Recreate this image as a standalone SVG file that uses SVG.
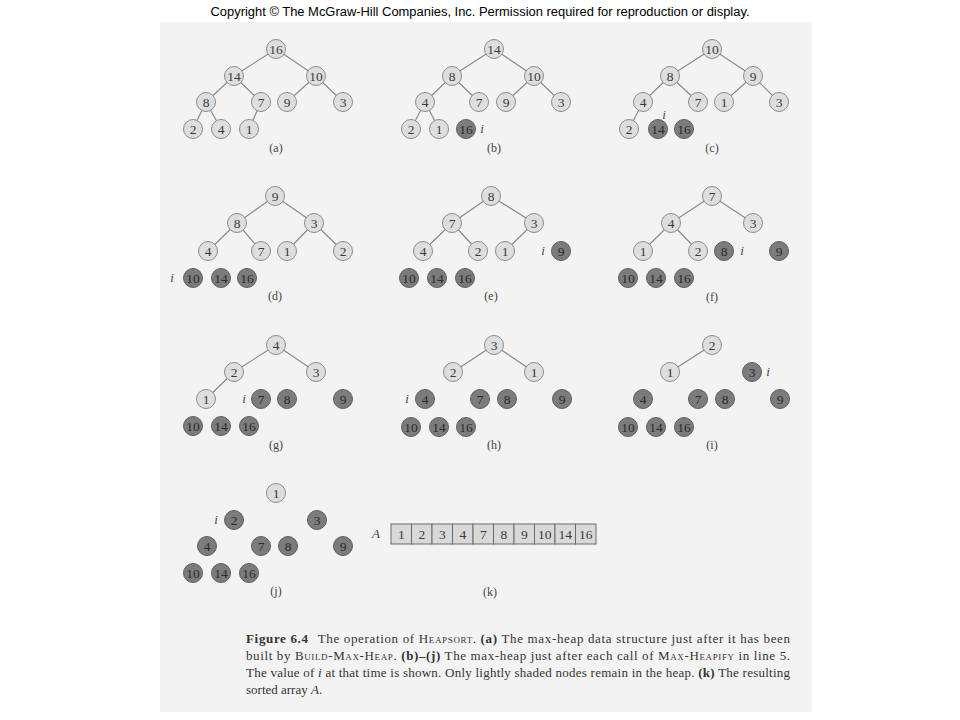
<svg xmlns="http://www.w3.org/2000/svg" width="960" height="720" viewBox="0 0 960 720">
<style>
.bg{fill:#f3f3f3}
.edge{stroke:#8a8a8a;stroke-width:1.2;fill:none}
.lt{fill:#dedede;stroke:#8c8c8c;stroke-width:1}
.dk{fill:#7c7c7c;stroke:#5e5e5e;stroke-width:1}
text{font-family:"Liberation Serif","Times New Roman",serif}
.nt{font-size:13.5px;fill:#3a3a3a;text-anchor:middle}
.dt{font-size:13.5px;fill:#2a2a2a;text-anchor:middle}
.lbl{font-size:12px;fill:#444;text-anchor:middle}
.iv{font-size:13px;font-style:italic;fill:#444;text-anchor:middle}
.cell{fill:#d9d9d9;stroke:#6a6a6a;stroke-width:1}
.cap{font-size:13px;fill:#333}
.sc{font-variant:small-caps}
.b{font-weight:bold}
.it{font-style:italic}
.copy{font-family:"Liberation Sans",Arial,sans-serif;font-size:12px;fill:#000;text-anchor:middle}
</style>
<rect width="960" height="720" fill="#ffffff"/>
<rect class="bg" x="160" y="22" width="652" height="690"/>
<text class="copy" x="480" y="16" textLength="539" lengthAdjust="spacingAndGlyphs">Copyright © The McGraw-Hill Companies, Inc. Permission required for reproduction or display.</text>

<g id="connectors">
<path class="edge" d="M276 49L234 76M276 49L316 76M234 76L206 102M234 76L261 102M316 76L287 102M316 76L343 102M206 102L193 129M206 102L221 129M261 102L249 129"/>
<path class="edge" d="M494 49L452 76M494 49L534 76M452 76L425 102M452 76L479 102M534 76L506 102M534 76L561 102M425 102L411 129M425 102L439 129"/>
<path class="edge" d="M712 49L670 76M712 49L753 76M670 76L643 102M670 76L698 102M753 76L724 102M753 76L779 102M643 102L629 129"/>
<path class="edge" d="M275 196L237 223M275 196L314 223M237 223L208 251M237 223L261 251M314 223L287 251M314 223L343 251"/>
<path class="edge" d="M491 196L452 223M491 196L534 223M452 223L423 251M452 223L478 251M534 223L505 251"/>
<path class="edge" d="M712 196L671 223M712 196L753 223M671 223L643 251M671 223L698 251"/>
<path class="edge" d="M276 345L234 372M276 345L316 372M234 372L206 399"/>
<path class="edge" d="M494 345L453 372M494 345L534 372"/>
<path class="edge" d="M712 345L670 372"/>
</g>

<!-- Panel (a) -->
<g id="a-16" transform="translate(276,49)"><circle class="lt" r="9.5"/><text class="nt" y="4.5">16</text></g>
<g id="a-14" transform="translate(234,76)"><circle class="lt" r="9.5"/><text class="nt" y="4.5">14</text></g>
<g id="a-10" transform="translate(316,76)"><circle class="lt" r="9.5"/><text class="nt" y="4.5">10</text></g>
<g id="a-8" transform="translate(206,102)"><circle class="lt" r="9.5"/><text class="nt" y="4.5">8</text></g>
<g id="a-7" transform="translate(261,102)"><circle class="lt" r="9.5"/><text class="nt" y="4.5">7</text></g>
<g id="a-9" transform="translate(287,102)"><circle class="lt" r="9.5"/><text class="nt" y="4.5">9</text></g>
<g id="a-3" transform="translate(343,102)"><circle class="lt" r="9.5"/><text class="nt" y="4.5">3</text></g>
<g id="a-2" transform="translate(193,129)"><circle class="lt" r="9.5"/><text class="nt" y="4.5">2</text></g>
<g id="a-4" transform="translate(221,129)"><circle class="lt" r="9.5"/><text class="nt" y="4.5">4</text></g>
<g id="a-1" transform="translate(249,129)"><circle class="lt" r="9.5"/><text class="nt" y="4.5">1</text></g>
<text class="lbl" x="276" y="152">(a)</text>

<!-- Panel (b) -->
<g id="b-14" transform="translate(494,49)"><circle class="lt" r="9.5"/><text class="nt" y="4.5">14</text></g>
<g id="b-8" transform="translate(452,76)"><circle class="lt" r="9.5"/><text class="nt" y="4.5">8</text></g>
<g id="b-10" transform="translate(534,76)"><circle class="lt" r="9.5"/><text class="nt" y="4.5">10</text></g>
<g id="b-4" transform="translate(425,102)"><circle class="lt" r="9.5"/><text class="nt" y="4.5">4</text></g>
<g id="b-7" transform="translate(479,102)"><circle class="lt" r="9.5"/><text class="nt" y="4.5">7</text></g>
<g id="b-9" transform="translate(506,102)"><circle class="lt" r="9.5"/><text class="nt" y="4.5">9</text></g>
<g id="b-3" transform="translate(561,102)"><circle class="lt" r="9.5"/><text class="nt" y="4.5">3</text></g>
<g id="b-2" transform="translate(411,129)"><circle class="lt" r="9.5"/><text class="nt" y="4.5">2</text></g>
<g id="b-1" transform="translate(439,129)"><circle class="lt" r="9.5"/><text class="nt" y="4.5">1</text></g>
<g id="b-16" transform="translate(466,129)"><circle class="dk" r="9.5"/><text class="dt" y="4.5">16</text></g>
<text class="iv" x="482" y="133">i</text>
<text class="lbl" x="494" y="152">(b)</text>

<!-- Panel (c) -->
<g id="c-10" transform="translate(712,49)"><circle class="lt" r="9.5"/><text class="nt" y="4.5">10</text></g>
<g id="c-8" transform="translate(670,76)"><circle class="lt" r="9.5"/><text class="nt" y="4.5">8</text></g>
<g id="c-9" transform="translate(753,76)"><circle class="lt" r="9.5"/><text class="nt" y="4.5">9</text></g>
<g id="c-4" transform="translate(643,102)"><circle class="lt" r="9.5"/><text class="nt" y="4.5">4</text></g>
<g id="c-7" transform="translate(698,102)"><circle class="lt" r="9.5"/><text class="nt" y="4.5">7</text></g>
<g id="c-1" transform="translate(724,102)"><circle class="lt" r="9.5"/><text class="nt" y="4.5">1</text></g>
<g id="c-3" transform="translate(779,102)"><circle class="lt" r="9.5"/><text class="nt" y="4.5">3</text></g>
<g id="c-2" transform="translate(629,129)"><circle class="lt" r="9.5"/><text class="nt" y="4.5">2</text></g>
<g id="c-14" transform="translate(658,129)"><circle class="dk" r="9.5"/><text class="dt" y="4.5">14</text></g>
<g id="c-16" transform="translate(684,129)"><circle class="dk" r="9.5"/><text class="dt" y="4.5">16</text></g>
<text class="iv" x="664" y="119">i</text>
<text class="lbl" x="712" y="152">(c)</text>

<!-- Panel (d) -->
<g id="d-9" transform="translate(275,196)"><circle class="lt" r="9.5"/><text class="nt" y="4.5">9</text></g>
<g id="d-8" transform="translate(237,223)"><circle class="lt" r="9.5"/><text class="nt" y="4.5">8</text></g>
<g id="d-3" transform="translate(314,223)"><circle class="lt" r="9.5"/><text class="nt" y="4.5">3</text></g>
<g id="d-4" transform="translate(208,251)"><circle class="lt" r="9.5"/><text class="nt" y="4.5">4</text></g>
<g id="d-7" transform="translate(261,251)"><circle class="lt" r="9.5"/><text class="nt" y="4.5">7</text></g>
<g id="d-1" transform="translate(287,251)"><circle class="lt" r="9.5"/><text class="nt" y="4.5">1</text></g>
<g id="d-2" transform="translate(343,251)"><circle class="lt" r="9.5"/><text class="nt" y="4.5">2</text></g>
<g id="d-10" transform="translate(193,278)"><circle class="dk" r="9.5"/><text class="dt" y="4.5">10</text></g>
<g id="d-14" transform="translate(221,278)"><circle class="dk" r="9.5"/><text class="dt" y="4.5">14</text></g>
<g id="d-16" transform="translate(247,278)"><circle class="dk" r="9.5"/><text class="dt" y="4.5">16</text></g>
<text class="iv" x="172" y="282">i</text>
<text class="lbl" x="275" y="300">(d)</text>

<!-- Panel (e) -->
<g id="e-8" transform="translate(491,196)"><circle class="lt" r="9.5"/><text class="nt" y="4.5">8</text></g>
<g id="e-7" transform="translate(452,223)"><circle class="lt" r="9.5"/><text class="nt" y="4.5">7</text></g>
<g id="e-3" transform="translate(534,223)"><circle class="lt" r="9.5"/><text class="nt" y="4.5">3</text></g>
<g id="e-4" transform="translate(423,251)"><circle class="lt" r="9.5"/><text class="nt" y="4.5">4</text></g>
<g id="e-2" transform="translate(478,251)"><circle class="lt" r="9.5"/><text class="nt" y="4.5">2</text></g>
<g id="e-1" transform="translate(505,251)"><circle class="lt" r="9.5"/><text class="nt" y="4.5">1</text></g>
<g id="e-9" transform="translate(561,251)"><circle class="dk" r="9.5"/><text class="dt" y="4.5">9</text></g>
<g id="e-10" transform="translate(409,278)"><circle class="dk" r="9.5"/><text class="dt" y="4.5">10</text></g>
<g id="e-14" transform="translate(437,278)"><circle class="dk" r="9.5"/><text class="dt" y="4.5">14</text></g>
<g id="e-16" transform="translate(465,278)"><circle class="dk" r="9.5"/><text class="dt" y="4.5">16</text></g>
<text class="iv" x="543" y="255">i</text>
<text class="lbl" x="491" y="300">(e)</text>

<!-- Panel (f) -->
<g id="f-7" transform="translate(712,196)"><circle class="lt" r="9.5"/><text class="nt" y="4.5">7</text></g>
<g id="f-4" transform="translate(671,223)"><circle class="lt" r="9.5"/><text class="nt" y="4.5">4</text></g>
<g id="f-3" transform="translate(753,223)"><circle class="lt" r="9.5"/><text class="nt" y="4.5">3</text></g>
<g id="f-1" transform="translate(643,251)"><circle class="lt" r="9.5"/><text class="nt" y="4.5">1</text></g>
<g id="f-2" transform="translate(698,251)"><circle class="lt" r="9.5"/><text class="nt" y="4.5">2</text></g>
<g id="f-8" transform="translate(724,251)"><circle class="dk" r="9.5"/><text class="dt" y="4.5">8</text></g>
<g id="f-9" transform="translate(779,251)"><circle class="dk" r="9.5"/><text class="dt" y="4.5">9</text></g>
<g id="f-10" transform="translate(628,278)"><circle class="dk" r="9.5"/><text class="dt" y="4.5">10</text></g>
<g id="f-14" transform="translate(656,278)"><circle class="dk" r="9.5"/><text class="dt" y="4.5">14</text></g>
<g id="f-16" transform="translate(684,278)"><circle class="dk" r="9.5"/><text class="dt" y="4.5">16</text></g>
<text class="iv" x="742" y="255">i</text>
<text class="lbl" x="712" y="301">(f)</text>

<!-- Panel (g) -->
<g id="g-4" transform="translate(276,345)"><circle class="lt" r="9.5"/><text class="nt" y="4.5">4</text></g>
<g id="g-2" transform="translate(234,372)"><circle class="lt" r="9.5"/><text class="nt" y="4.5">2</text></g>
<g id="g-3" transform="translate(316,372)"><circle class="lt" r="9.5"/><text class="nt" y="4.5">3</text></g>
<g id="g-1" transform="translate(206,399)"><circle class="lt" r="9.5"/><text class="nt" y="4.5">1</text></g>
<g id="g-7" transform="translate(261,399)"><circle class="dk" r="9.5"/><text class="dt" y="4.5">7</text></g>
<g id="g-8" transform="translate(287,399)"><circle class="dk" r="9.5"/><text class="dt" y="4.5">8</text></g>
<g id="g-9" transform="translate(343,399)"><circle class="dk" r="9.5"/><text class="dt" y="4.5">9</text></g>
<g id="g-10" transform="translate(193,426)"><circle class="dk" r="9.5"/><text class="dt" y="4.5">10</text></g>
<g id="g-14" transform="translate(221,426)"><circle class="dk" r="9.5"/><text class="dt" y="4.5">14</text></g>
<g id="g-16" transform="translate(249,426)"><circle class="dk" r="9.5"/><text class="dt" y="4.5">16</text></g>
<text class="iv" x="244" y="403">i</text>
<text class="lbl" x="276" y="449">(g)</text>

<!-- Panel (h) -->
<g id="h-3" transform="translate(494,345)"><circle class="lt" r="9.5"/><text class="nt" y="4.5">3</text></g>
<g id="h-2" transform="translate(453,372)"><circle class="lt" r="9.5"/><text class="nt" y="4.5">2</text></g>
<g id="h-1" transform="translate(534,372)"><circle class="lt" r="9.5"/><text class="nt" y="4.5">1</text></g>
<g id="h-4" transform="translate(425,399)"><circle class="dk" r="9.5"/><text class="dt" y="4.5">4</text></g>
<g id="h-7" transform="translate(480,399)"><circle class="dk" r="9.5"/><text class="dt" y="4.5">7</text></g>
<g id="h-8" transform="translate(507,399)"><circle class="dk" r="9.5"/><text class="dt" y="4.5">8</text></g>
<g id="h-9" transform="translate(562,399)"><circle class="dk" r="9.5"/><text class="dt" y="4.5">9</text></g>
<g id="h-10" transform="translate(411,427)"><circle class="dk" r="9.5"/><text class="dt" y="4.5">10</text></g>
<g id="h-14" transform="translate(439,427)"><circle class="dk" r="9.5"/><text class="dt" y="4.5">14</text></g>
<g id="h-16" transform="translate(466,427)"><circle class="dk" r="9.5"/><text class="dt" y="4.5">16</text></g>
<text class="iv" x="407" y="403">i</text>
<text class="lbl" x="494" y="449">(h)</text>

<!-- Panel (i) -->
<g id="i-2" transform="translate(712,345)"><circle class="lt" r="9.5"/><text class="nt" y="4.5">2</text></g>
<g id="i-1" transform="translate(670,372)"><circle class="lt" r="9.5"/><text class="nt" y="4.5">1</text></g>
<g id="i-3" transform="translate(752,372)"><circle class="dk" r="9.5"/><text class="dt" y="4.5">3</text></g>
<g id="i-4" transform="translate(643,399)"><circle class="dk" r="9.5"/><text class="dt" y="4.5">4</text></g>
<g id="i-7" transform="translate(698,399)"><circle class="dk" r="9.5"/><text class="dt" y="4.5">7</text></g>
<g id="i-8" transform="translate(725,399)"><circle class="dk" r="9.5"/><text class="dt" y="4.5">8</text></g>
<g id="i-9" transform="translate(780,399)"><circle class="dk" r="9.5"/><text class="dt" y="4.5">9</text></g>
<g id="i-10" transform="translate(628,427)"><circle class="dk" r="9.5"/><text class="dt" y="4.5">10</text></g>
<g id="i-14" transform="translate(656,427)"><circle class="dk" r="9.5"/><text class="dt" y="4.5">14</text></g>
<g id="i-16" transform="translate(684,427)"><circle class="dk" r="9.5"/><text class="dt" y="4.5">16</text></g>
<text class="iv" x="768" y="376">i</text>
<text class="lbl" x="712" y="449">(i)</text>

<!-- Panel (j) -->
<g id="j-1" transform="translate(276,493)"><circle class="lt" r="9.5"/><text class="nt" y="4.5">1</text></g>
<g id="j-2" transform="translate(234,520)"><circle class="dk" r="9.5"/><text class="dt" y="4.5">2</text></g>
<g id="j-3" transform="translate(317,520)"><circle class="dk" r="9.5"/><text class="dt" y="4.5">3</text></g>
<g id="j-4" transform="translate(207,546)"><circle class="dk" r="9.5"/><text class="dt" y="4.5">4</text></g>
<g id="j-7" transform="translate(261,546)"><circle class="dk" r="9.5"/><text class="dt" y="4.5">7</text></g>
<g id="j-8" transform="translate(288,546)"><circle class="dk" r="9.5"/><text class="dt" y="4.5">8</text></g>
<g id="j-9" transform="translate(343,546)"><circle class="dk" r="9.5"/><text class="dt" y="4.5">9</text></g>
<g id="j-10" transform="translate(193,573)"><circle class="dk" r="9.5"/><text class="dt" y="4.5">10</text></g>
<g id="j-14" transform="translate(221,573)"><circle class="dk" r="9.5"/><text class="dt" y="4.5">14</text></g>
<g id="j-16" transform="translate(249,573)"><circle class="dk" r="9.5"/><text class="dt" y="4.5">16</text></g>
<text class="iv" x="216" y="524">i</text>
<text class="lbl" x="276" y="595">(j)</text>

<!-- Panel (k) -->
<g id="k-array">
<text class="iv" x="376" y="538">A</text>
<rect class="cell" x="391" y="524" width="20.5" height="20"/>
<rect class="cell" x="411.5" y="524" width="20.5" height="20"/>
<rect class="cell" x="432" y="524" width="20.5" height="20"/>
<rect class="cell" x="452.5" y="524" width="20.5" height="20"/>
<rect class="cell" x="473" y="524" width="20.5" height="20"/>
<rect class="cell" x="493.5" y="524" width="20.5" height="20"/>
<rect class="cell" x="514" y="524" width="20.5" height="20"/>
<rect class="cell" x="534.5" y="524" width="20.5" height="20"/>
<rect class="cell" x="555" y="524" width="20.5" height="20"/>
<rect class="cell" x="575.5" y="524" width="20.5" height="20"/>
<text class="nt" x="401.25" y="538.5">1</text>
<text class="nt" x="421.75" y="538.5">2</text>
<text class="nt" x="442.25" y="538.5">3</text>
<text class="nt" x="462.75" y="538.5">4</text>
<text class="nt" x="483.25" y="538.5">7</text>
<text class="nt" x="503.75" y="538.5">8</text>
<text class="nt" x="524.25" y="538.5">9</text>
<text class="nt" x="544.75" y="538.5">10</text>
<text class="nt" x="565.25" y="538.5">14</text>
<text class="nt" x="585.75" y="538.5">16</text>
</g>
<text class="lbl" x="490" y="596">(k)</text>

<!-- Caption -->
<text class="cap" x="246" y="643" textLength="544" lengthAdjust="spacing"><tspan class="b">Figure 6.4</tspan><tspan dx="9">The operation of </tspan><tspan class="sc">Heapsort</tspan>. <tspan class="b">(a)</tspan> The max-heap data structure just after it has been</text>
<text class="cap" x="246" y="660" textLength="544" lengthAdjust="spacing">built by <tspan class="sc">Build-Max-Heap</tspan>. <tspan class="b">(b)–(j)</tspan> The max-heap just after each call of <tspan class="sc">Max-Heapify</tspan> in line 5.</text>
<text class="cap" x="246" y="677" textLength="544" lengthAdjust="spacing">The value of <tspan class="it">i</tspan> at that time is shown. Only lightly shaded nodes remain in the heap. <tspan class="b">(k)</tspan> The resulting</text>
<text class="cap" x="246" y="694">sorted array <tspan class="it">A</tspan>.</text>
</svg>
